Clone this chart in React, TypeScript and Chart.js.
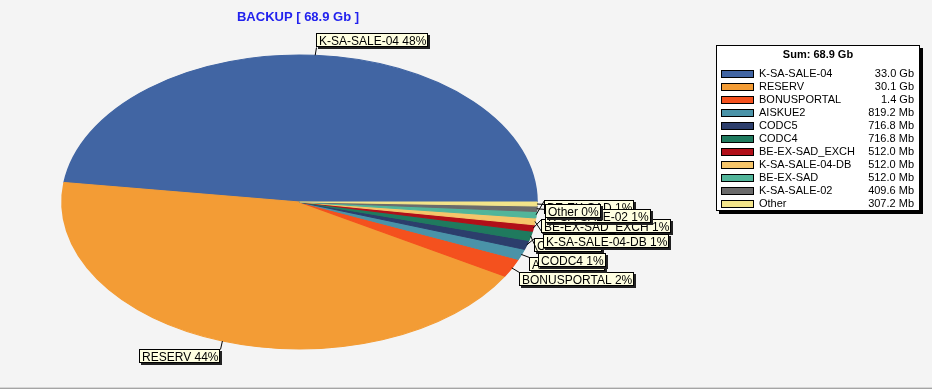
import React, { useEffect, useRef } from 'react';
import { Chart, registerables } from 'chart.js';

Chart.register(...registerables);

// ---------- data ----------
const TITLE = 'BACKUP';
const categories = [
  'K-SA-SALE-04',
  'RESERV',
  'BONUSPORTAL',
  'AISKUE2',
  'CODC5',
  'CODC4',
  'BE-EX-SAD_EXCH',
  'K-SA-SALE-04-DB',
  'BE-EX-SAD',
  'K-SA-SALE-02',
  'Other',
];
// sizes in Mb (legend shows 33.0 Gb, 30.1 Gb, 1.4 Gb, 819.2 Mb, ...)
const sizesMb = [33792, 30822.4, 1433.6, 819.2, 716.8, 716.8, 512, 512, 512, 409.6, 307.2];
const colors = [
  '#4165a3',
  '#f39c35',
  '#f4511e',
  '#4a93a8',
  '#2c3e6c',
  '#1f7a5e',
  '#b10f19',
  '#f6c56a',
  '#52b59a',
  '#6b6b6b',
  '#f3e48a',
];

// ---------- layout ----------
const W = 932;
const H = 389;
const CX = 299.5;
const CY = 202;
const RX = 237.5;
const RY = 147;
const ARROW = 8;
const BOX_H = 14;
const CHECK_H = 15;
const MOVE_UP = 19;
const MOVE_DOWN = 15;
const NO_MOVE_BAND = 10;
const FONT = '"Liberation Sans", Arial, Helvetica, sans-serif';

function fmtSize(mb: number): string {
  return mb >= 1024 ? (mb / 1024).toFixed(1) + ' Gb' : mb.toFixed(1) + ' Mb';
}

const total = sizesMb.reduce((a, b) => a + b, 0);

const bgPlugin = {
  id: 'bg',
  beforeDraw(chart: any) {
    const ctx = chart.ctx;
    ctx.save();
    ctx.fillStyle = '#f4f4f4';
    ctx.fillRect(0, 0, chart.width, chart.height);
    ctx.fillStyle = '#d6d6d6';
    ctx.fillRect(0, H - 2, chart.width, 1);
    ctx.fillStyle = '#a4a4a4';
    ctx.fillRect(0, H - 1, chart.width, 1);
    ctx.restore();
  },
};

// squash the circular pie into an ellipse, counter-clockwise from 3 o'clock
const ellipsePlugin = {
  id: 'ellipse',
  beforeDatasetsDraw(chart: any) {
    const arc = chart.getDatasetMeta(0).data[0];
    const ctx = chart.ctx;
    ctx.save();
    ctx.translate(arc.x, arc.y);
    ctx.scale(RX / RY, -1);
    ctx.translate(-arc.x, -arc.y);
  },
  afterDatasetsDraw(chart: any) {
    chart.ctx.restore();
  },
};

const decorPlugin = {
  id: 'decor',
  afterDraw(chart: any) {
    const ctx = chart.ctx;
    const meta = chart.getDatasetMeta(0);
    ctx.save();

    // title
    ctx.font = 'bold 13px ' + FONT;
    ctx.fillStyle = '#2222ee';
    ctx.textAlign = 'center';
    ctx.textBaseline = 'middle';
    ctx.fillText(`${TITLE} [ ${fmtSize(total)} ]`, 298, 17);

    // slice labels
    ctx.font = '12px ' + FONT;
    ctx.textAlign = 'left';
    ctx.textBaseline = 'alphabetic';
    const placed: { left: number; top: number; w: number }[] = [];
    meta.data.forEach((arc: any, i: number) => {
      const a = (arc.startAngle + arc.endAngle) / 2;
      const cos = Math.cos(a);
      const sin = Math.sin(a);
      const ex = arc.x + RX * cos;
      const ey = arc.y - RY * sin;
      const ax = arc.x + (RX + ARROW) * cos;
      const ay = arc.y - (RY + ARROW) * sin;
      const text = `${categories[i]} ${Math.round((sizesMb[i] / total) * 100)}%`;
      const w = Math.round(ctx.measureText(text).width + 5);
      const right = ax >= arc.x;
      const lower = ay >= arc.y;
      const left = Math.round(right ? ax : ax - w);
      let top = Math.round(lower ? ay : ay - BOX_H);
      if (Math.abs(ay - arc.y) >= NO_MOVE_BAND) {
        for (let j = placed.length - 1; j >= 0; j--) {
          const p = placed[j];
          if (left < p.left + p.w && p.left < left + w && top < p.top + CHECK_H && p.top < top + CHECK_H) {
            top = top < p.top ? p.top - MOVE_UP : p.top + MOVE_DOWN;
            break;
          }
        }
      }
      placed.push({ left, top, w });
      const lx = right ? left : left + w;
      const ly = lower ? top : top + BOX_H;
      ctx.strokeStyle = '#000';
      ctx.lineWidth = 1;
      ctx.beginPath();
      ctx.moveTo(ex, ey);
      ctx.lineTo(lx + 0.5, ly + 0.5);
      ctx.stroke();
      ctx.fillStyle = '#222';
      ctx.fillRect(left + 2, top + 2, w, BOX_H);
      ctx.fillStyle = '#ffffe1';
      ctx.fillRect(left, top, w, BOX_H);
      ctx.strokeRect(left + 0.5, top + 0.5, w - 1, BOX_H - 1);
      ctx.fillStyle = '#000';
      ctx.fillText(text, left + 3, top + 11.5);
    });

    // legend
    const lx0 = 716, ly0 = 45, lw = 204, lh = 166;
    ctx.fillStyle = '#000';
    ctx.fillRect(lx0 + 3, ly0 + 3, lw, lh);
    ctx.fillStyle = '#fff';
    ctx.fillRect(lx0, ly0, lw, lh);
    ctx.strokeStyle = '#000';
    ctx.strokeRect(lx0 + 0.5, ly0 + 0.5, lw - 1, lh - 1);
    ctx.fillStyle = '#000';
    ctx.font = 'bold 11px ' + FONT;
    ctx.textAlign = 'center';
    ctx.textBaseline = 'middle';
    ctx.fillText(`Sum: ${fmtSize(total)}`, lx0 + lw / 2, 55);
    ctx.font = '11px ' + FONT;
    categories.forEach((c, i) => {
      const y = 73.5 + i * 13.05;
      const sy = Math.round(y - 4);
      ctx.fillStyle = colors[i];
      ctx.fillRect(721, sy, 33, 8);
      ctx.strokeStyle = '#000';
      ctx.strokeRect(721.5, sy + 0.5, 32, 7);
      ctx.fillStyle = '#000';
      ctx.textAlign = 'left';
      ctx.fillText(c, 759, y);
      ctx.textAlign = 'right';
      ctx.fillText(fmtSize(sizesMb[i]), 914, y);
    });
    ctx.restore();
  },
};

export default function App() {
  const ref = useRef<HTMLCanvasElement | null>(null);
  useEffect(() => {
    document.body.style.margin = '0';
    document.body.style.background = '#f4f4f4';
    if (!ref.current) return;
    const chart = new Chart(ref.current, {
      type: 'pie',
      data: {
        labels: categories,
        datasets: [
          {
            data: sizesMb,
            backgroundColor: colors,
            borderColor: colors,
            borderWidth: 1,
            hoverOffset: 0,
            offset: 0,
            clip: false,
          } as any,
        ],
      },
      options: {
        responsive: false,
        devicePixelRatio: 1,
        animation: false,
        rotation: 90,
        radius: RY,
        layout: {
          padding: {
            left: CX - RY,
            right: W - (CX + RY),
            top: CY - RY,
            bottom: H - (CY + RY),
          },
        },
        plugins: {
          legend: { display: false },
          tooltip: { enabled: false },
          title: { display: false },
        },
        events: [],
      } as any,
      plugins: [bgPlugin, ellipsePlugin, decorPlugin],
    });
    return () => chart.destroy();
  }, []);
  return (
    <div style={{ width: W, height: H }}>
      <canvas ref={ref} width={W} height={H} style={{ display: 'block', width: W, height: H }} />
    </div>
  );
}
